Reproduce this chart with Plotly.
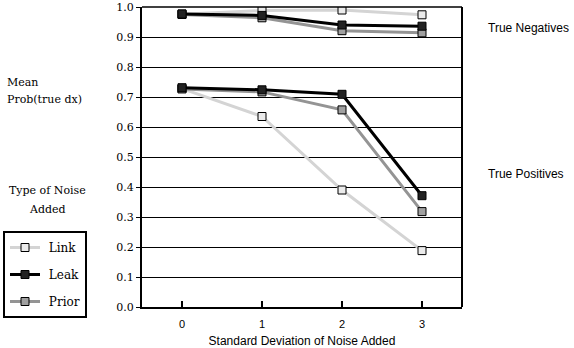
import plotly.graph_objects as go

noise_sd = [0, 1, 2, 3]
x_tick_labels = ["0", "1", "2", "3"]
y_tick_vals = [0.0, 0.1, 0.2, 0.3, 0.4, 0.5, 0.6, 0.7, 0.8, 0.9, 1.0]

# True negatives
tn_link = [0.976, 0.988, 0.990, 0.974]
tn_leak = [0.977, 0.972, 0.940, 0.936]
tn_prior = [0.975, 0.964, 0.921, 0.914]
# True positives
tp_link = [0.728, 0.635, 0.390, 0.188]
tp_leak = [0.731, 0.724, 0.709, 0.371]
tp_prior = [0.727, 0.717, 0.657, 0.318]

W, H = 574, 348
L, R, T, B = 142, 462, 7, 307

def px(xp):
    return (xp - L) / (R - L)

def py(yp):
    return (B - yp) / (B - T)

SERIF = "DejaVu Serif"
SANS = "Liberation Sans"

styles = {
    "Link": dict(line="#d4d4d4", fill="#ebebeb"),
    "Prior": dict(line="#949494", fill="#a0a0a0"),
    "Leak": dict(line="#000000", fill="#222222"),
}
series = [
    ("Link", tn_link, tp_link),
    ("Prior", tn_prior, tp_prior),
    ("Leak", tn_leak, tp_leak),
]
legend_rank = {"Link": 1, "Leak": 2, "Prior": 3}
LEAD = "\u00a0"

fig = go.Figure()
for name, tn, tp in series:
    st = styles[name]
    for i, ys in enumerate([tn, tp]):
        fig.add_trace(go.Scatter(
            x=noise_sd, y=ys, mode="lines+markers", name=LEAD + name,
            legendgroup=name, showlegend=(i == 0), legendrank=legend_rank[name],
            line=dict(color=st["line"], width=3),
            marker=dict(symbol="square", size=8, color=st["fill"],
                        line=dict(color="#000000", width=1)),
        ))

fig.update_layout(
    width=W, height=H, autosize=False,
    margin=dict(l=L, r=W - R, t=T, b=H - B, pad=0, autoexpand=False),
    paper_bgcolor="white", plot_bgcolor="white",
    font=dict(family=SERIF, size=11, color="black"),
    showlegend=True,
    legend=dict(
        x=px(3), y=py(231), xanchor="left", yanchor="top",
        bordercolor="black", borderwidth=2, bgcolor="white",
        font=dict(family=SERIF, size=12), tracegroupgap=8,
        itemwidth=30,
    ),
    xaxis=dict(
        range=[-0.5, 3.5], tickvals=noise_sd, ticktext=x_tick_labels,
        ticks="inside", ticklen=6, tickwidth=2, tickcolor="black",
        showline=True, linecolor="black", linewidth=2, showgrid=False,
        zeroline=False, tickfont=dict(family=SANS, size=11),
        ticklabelstandoff=6,
        title=dict(text="Standard Deviation of Noise Added",
                   font=dict(family=SANS, size=12), standoff=10),
    ),
    yaxis=dict(
        range=[0, 1], tickvals=y_tick_vals, tickformat=".1f",
        ticks="outside", ticklen=4, tickwidth=1, tickcolor="black",
        showline=True, linecolor="black", linewidth=2,
        showgrid=True, gridcolor="black", gridwidth=1, zeroline=False,
        tickfont=dict(family=SERIF, size=11),
    ),
    shapes=[
        dict(type="line", xref="paper", yref="paper", x0=0, x1=1, y0=1, y1=1,
             line=dict(color="black", width=1.5)),
        dict(type="line", xref="paper", yref="paper", x0=1, x1=1, y0=0, y1=1,
             line=dict(color="black", width=2)),
    ],
)

annots = [
    ("Mean", 5, 82, "left", SERIF),
    ("Prob(true dx)", 5, 99, "left", SERIF),
    ("Type of Noise", 47, 190, "center", SERIF),
    ("Added", 47, 209, "center", SERIF),
    ("True Negatives", 486, 28, "left", SANS),
    ("True Positives", 486, 174, "left", SANS),
]
for text, xp, yp, anchor, fam in annots:
    fig.add_annotation(text=text, xref="paper", yref="paper", x=px(xp), y=py(yp),
                       xanchor=anchor, yanchor="middle", showarrow=False,
                       font=dict(family=fam, size=11 if fam == SERIF else 12, color="black"))

fig.write_html("out.html", config={"displayModeBar": False},
               post_script="document.body.style.margin='0';")
